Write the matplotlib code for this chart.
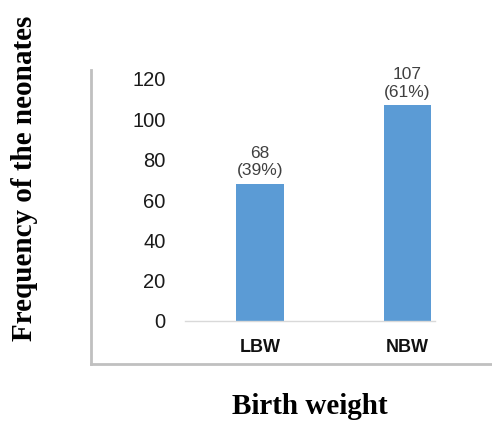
import matplotlib
matplotlib.use("Agg")
import matplotlib.pyplot as plt
from matplotlib.lines import Line2D

# data
categories = ["LBW", "NBW"]
counts = [68, 107]
percents = ["39%", "61%"]
yticks = [0, 20, 40, 60, 80, 100, 120]

W, H = 492, 421
fig = plt.figure(figsize=(W / 100, H / 100), dpi=100)
fig.patch.set_facecolor("white")

# axes placed in pixel terms of the reference
ax = fig.add_axes([185 / W, (H - 321) / H, 250 / W, 242 / H])
x = list(range(len(categories)))
ax.bar(x, counts, width=0.32, color="#5B9BD5", zorder=2)

ax.set_xlim(-0.51, 1.19)
ax.set_ylim(0, 120)
ax.set_yticks(yticks)
ax.set_xticks(x)
ax.set_xticklabels(categories, fontfamily="Liberation Sans", fontweight="bold",
                   fontsize=13, color="#111111")
for lab in ax.get_yticklabels():
    lab.set_fontfamily("Liberation Sans")
    lab.set_fontsize(14.5)
    lab.set_color("#1a1a1a")
ax.tick_params(axis="y", length=0, pad=14)
ax.tick_params(axis="x", length=0, pad=13)

for s in ["top", "right", "left"]:
    ax.spines[s].set_visible(False)
ax.spines["bottom"].set_color("#d9d9d9")
ax.spines["bottom"].set_linewidth(1.0)

for xi, c, p in zip(x, counts, percents):
    ax.annotate(f"{c}\n({p})", (xi, c), xytext=(0, 4), textcoords="offset points",
                ha="center", va="bottom", fontsize=12.5, color="#404040",
                fontfamily="Liberation Sans", linespacing=1.2)

# gray L-shaped chart frame
fc = "#c0c0c0"
fig.add_artist(Line2D([91 / W, 91 / W], [(H - 70) / H, (H - 364) / H],
                      transform=fig.transFigure, color=fc, lw=2))
fig.add_artist(Line2D([91 / W, 1.0], [(H - 364) / H, (H - 364) / H],
                      transform=fig.transFigure, color=fc, lw=2))

fig.text(25 / W, (H - 178) / H, "Frequency of the neonates", rotation=90,
         ha="center", va="center", fontfamily="Liberation Serif",
         fontweight="bold", fontsize=21)
fig.text(310 / W, (H - 406) / H, "Birth weight", ha="center", va="center",
         fontfamily="Liberation Serif", fontweight="bold", fontsize=21)

fig.savefig("out.png", dpi=100)
